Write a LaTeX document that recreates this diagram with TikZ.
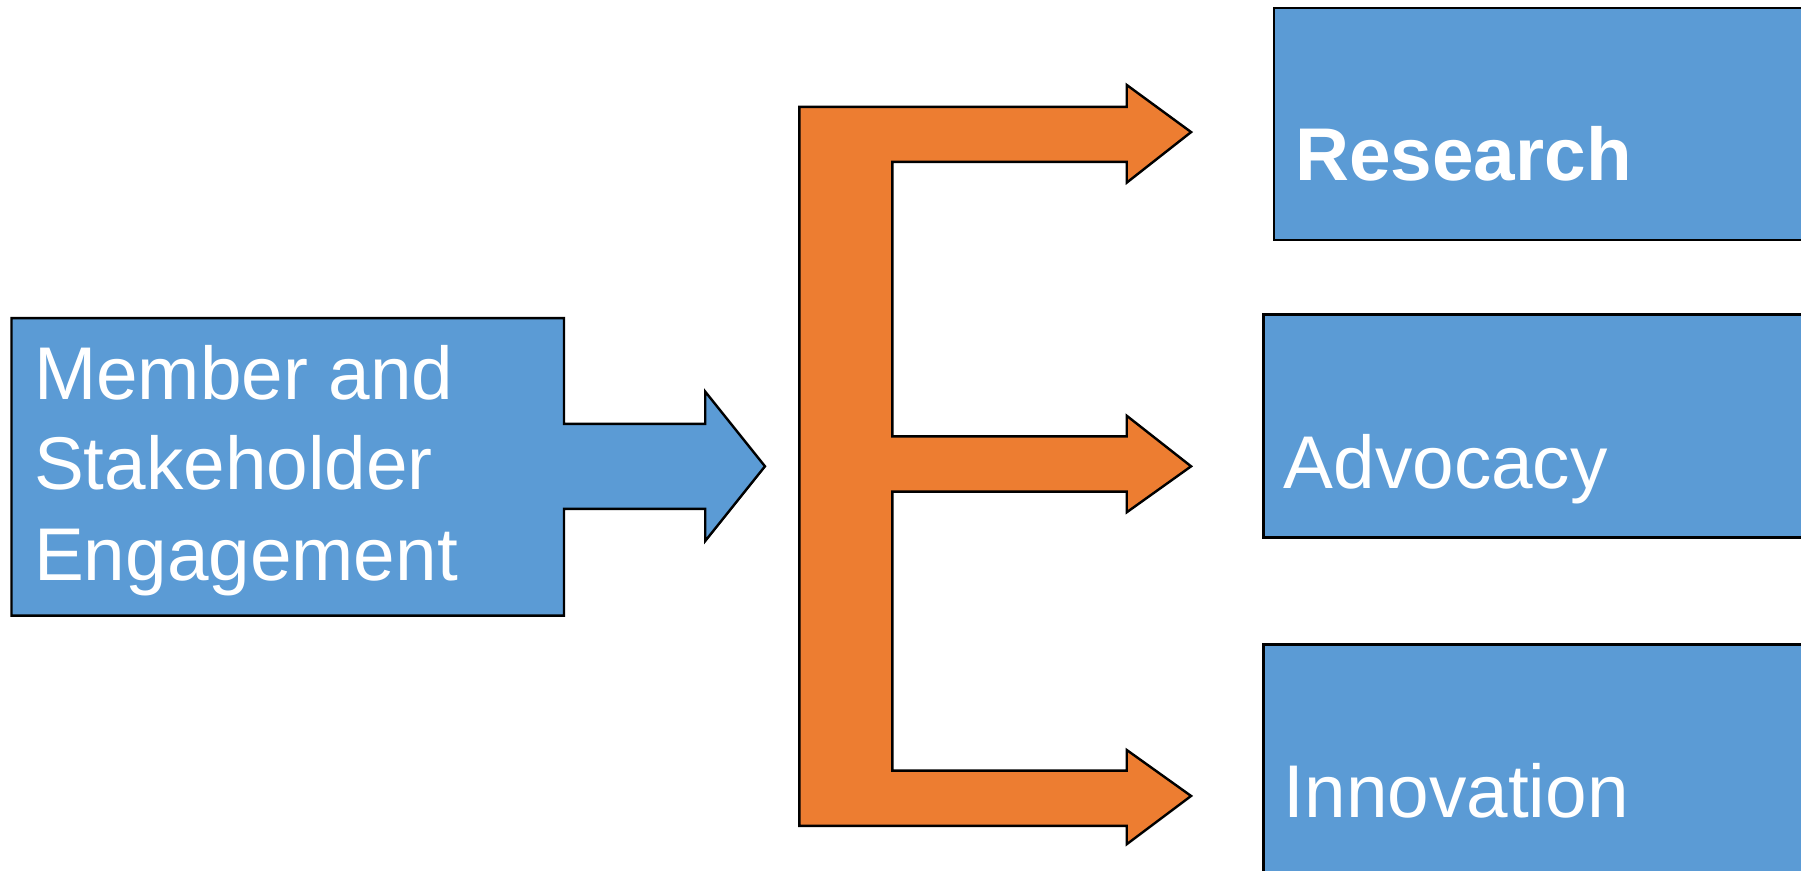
\documentclass[tikz,border=0pt]{standalone}
\usepackage{fontspec}
\setmainfont{Liberation Sans}
\definecolor{boxblue}{HTML}{5B9BD5}
\definecolor{arrorange}{HTML}{ED7D31}
\begin{document}
\begin{tikzpicture}[x=0.01cm,y=-0.01cm,
  shp/.style={draw=black,line width=0.6pt,line join=miter},
  bluefill/.style={shp,fill=boxblue},
  orangefill/.style={shp,fill=arrorange},
  lbl/.style={text=white,inner sep=0pt,anchor=base west,font=\fontsize{18.5}{22}\selectfont}]
\useasboundingbox (0,0) rectangle (1568,758);
\clip (0,0) rectangle (1568,758);
% left box with arrow
\draw[bluefill] (10,277) -- (491,277) -- (491,369) -- (614,369) -- (614,341) -- (666,406)
  -- (614,471) -- (614,443) -- (491,443) -- (491,536) -- (10,536) -- cycle;
% orange E arrow
\draw[orangefill] (696,93) -- (981,93) -- (981,74) -- (1037,115) -- (981,159) -- (981,141)
  -- (777,141) -- (777,380) -- (981,380) -- (981,362) -- (1037,406) -- (981,446) -- (981,428)
  -- (777,428) -- (777,671) -- (981,671) -- (981,653) -- (1037,693) -- (981,735) -- (981,719)
  -- (696,719) -- cycle;
% right boxes
\draw[bluefill] (1109,7) rectangle (1620,209);
\draw[bluefill] (1100,274) rectangle (1620,468);
\draw[bluefill] (1100,561) rectangle (1620,820);
% labels
\node[lbl] (m1) at (29,348) {Member and};
\node[lbl] (m2) at (29,426) {Stakeholder};
\node[lbl] (m3) at (29,505) {Engagement};
\node[lbl,font=\fontsize{18.5}{22}\selectfont\bfseries] (res) at (1127,157) {Research};
\node[lbl] (adv) at (1117,425) {Advocacy};
\node[lbl] (inn) at (1117,712) {Innovation};
\end{tikzpicture}
\end{document}
